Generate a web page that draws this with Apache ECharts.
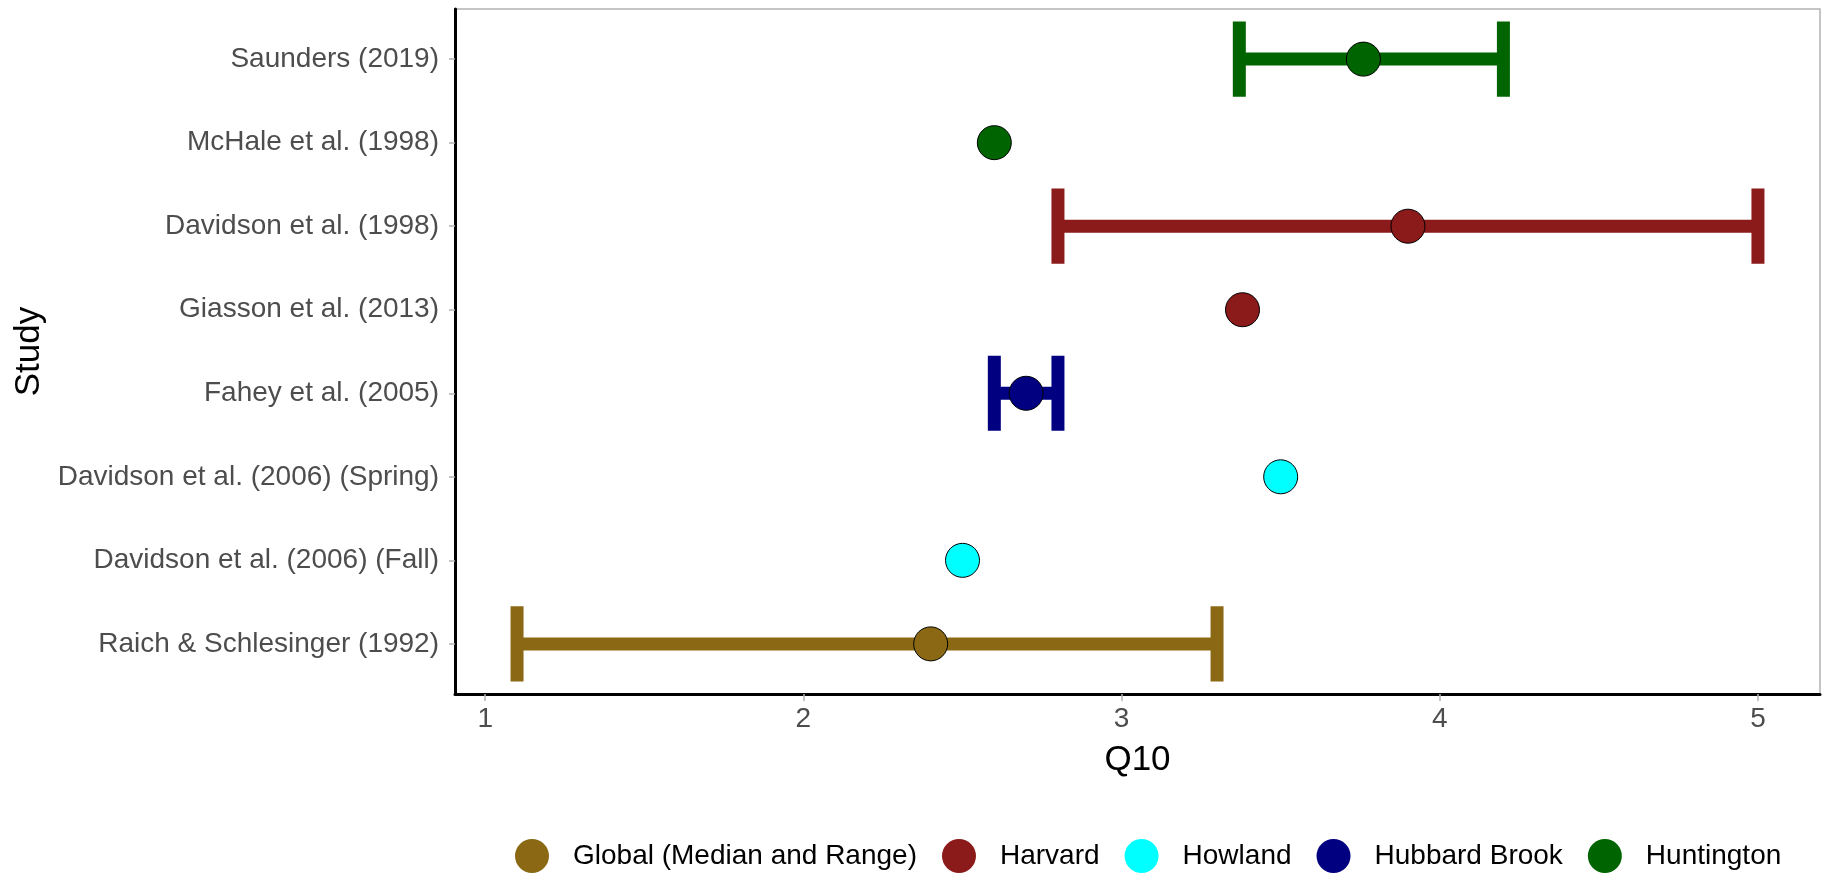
<!DOCTYPE html>
<html><head><meta charset="utf-8">
<script src="https://cdn.jsdelivr.net/npm/echarts@6/dist/echarts.min.js"></script>
<style>html,body{margin:0;padding:0;background:#fff}#c{width:1829px;height:875px}</style>
</head><body><div id="c"></div>
<script>
const studies = ['Raich & Schlesinger (1992)','Davidson et al. (2006) (Fall)','Davidson et al. (2006) (Spring)','Fahey et al. (2005)','Giasson et al. (2013)','Davidson et al. (1998)','McHale et al. (1998)','Saunders (2019)'];
const sites = ['Global (Median and Range)','Harvard','Howland','Hubbard Brook','Huntington'];
const siteColors = ['#8B6914','#8B1A1A','#00FFFF','#000080','#006400'];
const studySite = [0,2,2,3,1,1,4,4];
const q10 = [2.4,2.5,3.5,2.7,3.38,3.9,2.6,3.76];
const q10Low = [1.1,null,null,2.6,null,2.8,null,3.37];
const q10High = [3.3,null,null,2.8,null,5.0,null,4.2];
const xTicks = [1,2,3,4,5];
const yTicks = studies.map((s,i)=>i);

const FONT = '"Liberation Sans", Arial, Helvetica, sans-serif';
const series = [];
sites.forEach((site, si) => {
  const pts = [];
  studies.forEach((s, i) => { if (studySite[i] === si) pts.push([q10[i], i]); });
  series.push({
    type: 'scatter', name: site, z: 3, symbol: 'circle', symbolSize: 34,
    itemStyle: {color: siteColors[si], borderColor: '#000', borderWidth: 1, opacity: 1},
    data: pts, silent: true
  });
});
sites.forEach((site, si) => {
  const bars = [];
  studies.forEach((s, i) => { if (studySite[i] === si && q10Low[i] !== null) bars.push([q10Low[i], q10High[i], i]); });
  if (!bars.length) return;
  series.push({
    type: 'custom', name: site, z: 2, silent: true,
    itemStyle: {color: siteColors[si]},
    encode: {x: [0, 1], y: 2},
    data: bars,
    renderItem: function (params, api) {
      const lo = api.coord([api.value(0), api.value(2)]);
      const hi = api.coord([api.value(1), api.value(2)]);
      const h = api.size([0, 1])[1] * 0.9;
      const style = {stroke: siteColors[si], lineWidth: 13, lineCap: 'butt', fill: null};
      return {type: 'group', children: [
        {type: 'line', shape: {x1: lo[0], y1: lo[1], x2: hi[0], y2: hi[1]}, style: style},
        {type: 'line', shape: {x1: lo[0], y1: lo[1] - h / 2, x2: lo[0], y2: lo[1] + h / 2}, style: style},
        {type: 'line', shape: {x1: hi[0], y1: hi[1] - h / 2, x2: hi[0], y2: hi[1] + h / 2}, style: style}
      ]};
    }
  });
});

const chart = echarts.init(document.getElementById('c'), null, {renderer: 'canvas'});
chart.setOption({
  animation: false,
  backgroundColor: '#fff',
  grid: {left: 455, right: 9, top: 9, bottom: 181, show: true, borderColor: '#B3B3B3', borderWidth: 1.5, backgroundColor: 'transparent'},
  xAxis: {
    type: 'value', min: 0.905, max: 5.195,
    name: 'Q10', nameLocation: 'middle', nameGap: 49,
    nameTextStyle: {color: '#000', fontSize: 35, fontFamily: FONT},
    axisLine: {show: true, onZero: false, lineStyle: {color: '#000', width: 3}},
    axisTick: {show: true, customValues: xTicks, length: 7, lineStyle: {color: '#B3B3B3', width: 1.5}},
    axisLabel: {customValues: xTicks, color: '#4D4D4D', fontSize: 28, fontFamily: FONT, margin: 11},
    splitLine: {show: false}
  },
  yAxis: {
    type: 'value', min: -0.6, max: 7.6,
    name: 'Study', nameLocation: 'middle', nameGap: 405, nameRotate: 90,
    nameTextStyle: {color: '#000', fontSize: 35, fontFamily: FONT},
    axisLine: {show: true, onZero: false, lineStyle: {color: '#000', width: 3}},
    axisTick: {show: true, customValues: yTicks, length: 6, lineStyle: {color: '#B3B3B3', width: 1.5}},
    axisLabel: {customValues: yTicks, color: '#4D4D4D', fontSize: 28, fontFamily: FONT, margin: 16,
      formatter: v => studies[Math.round(v)]},
    splitLine: {show: false}
  },
  legend: {
    data: sites.map(n => ({name: n, icon: 'circle'})),
    left: 510, top: 834, orient: 'horizontal',
    itemWidth: 34, itemHeight: 34, itemGap: 25,
    itemStyle: {borderWidth: 0},
    textStyle: {color: '#000', fontSize: 28, fontFamily: FONT, padding: [0, 0, 0, 19]},
    selectedMode: false
  },
  series: series
});
</script>
</body></html>
